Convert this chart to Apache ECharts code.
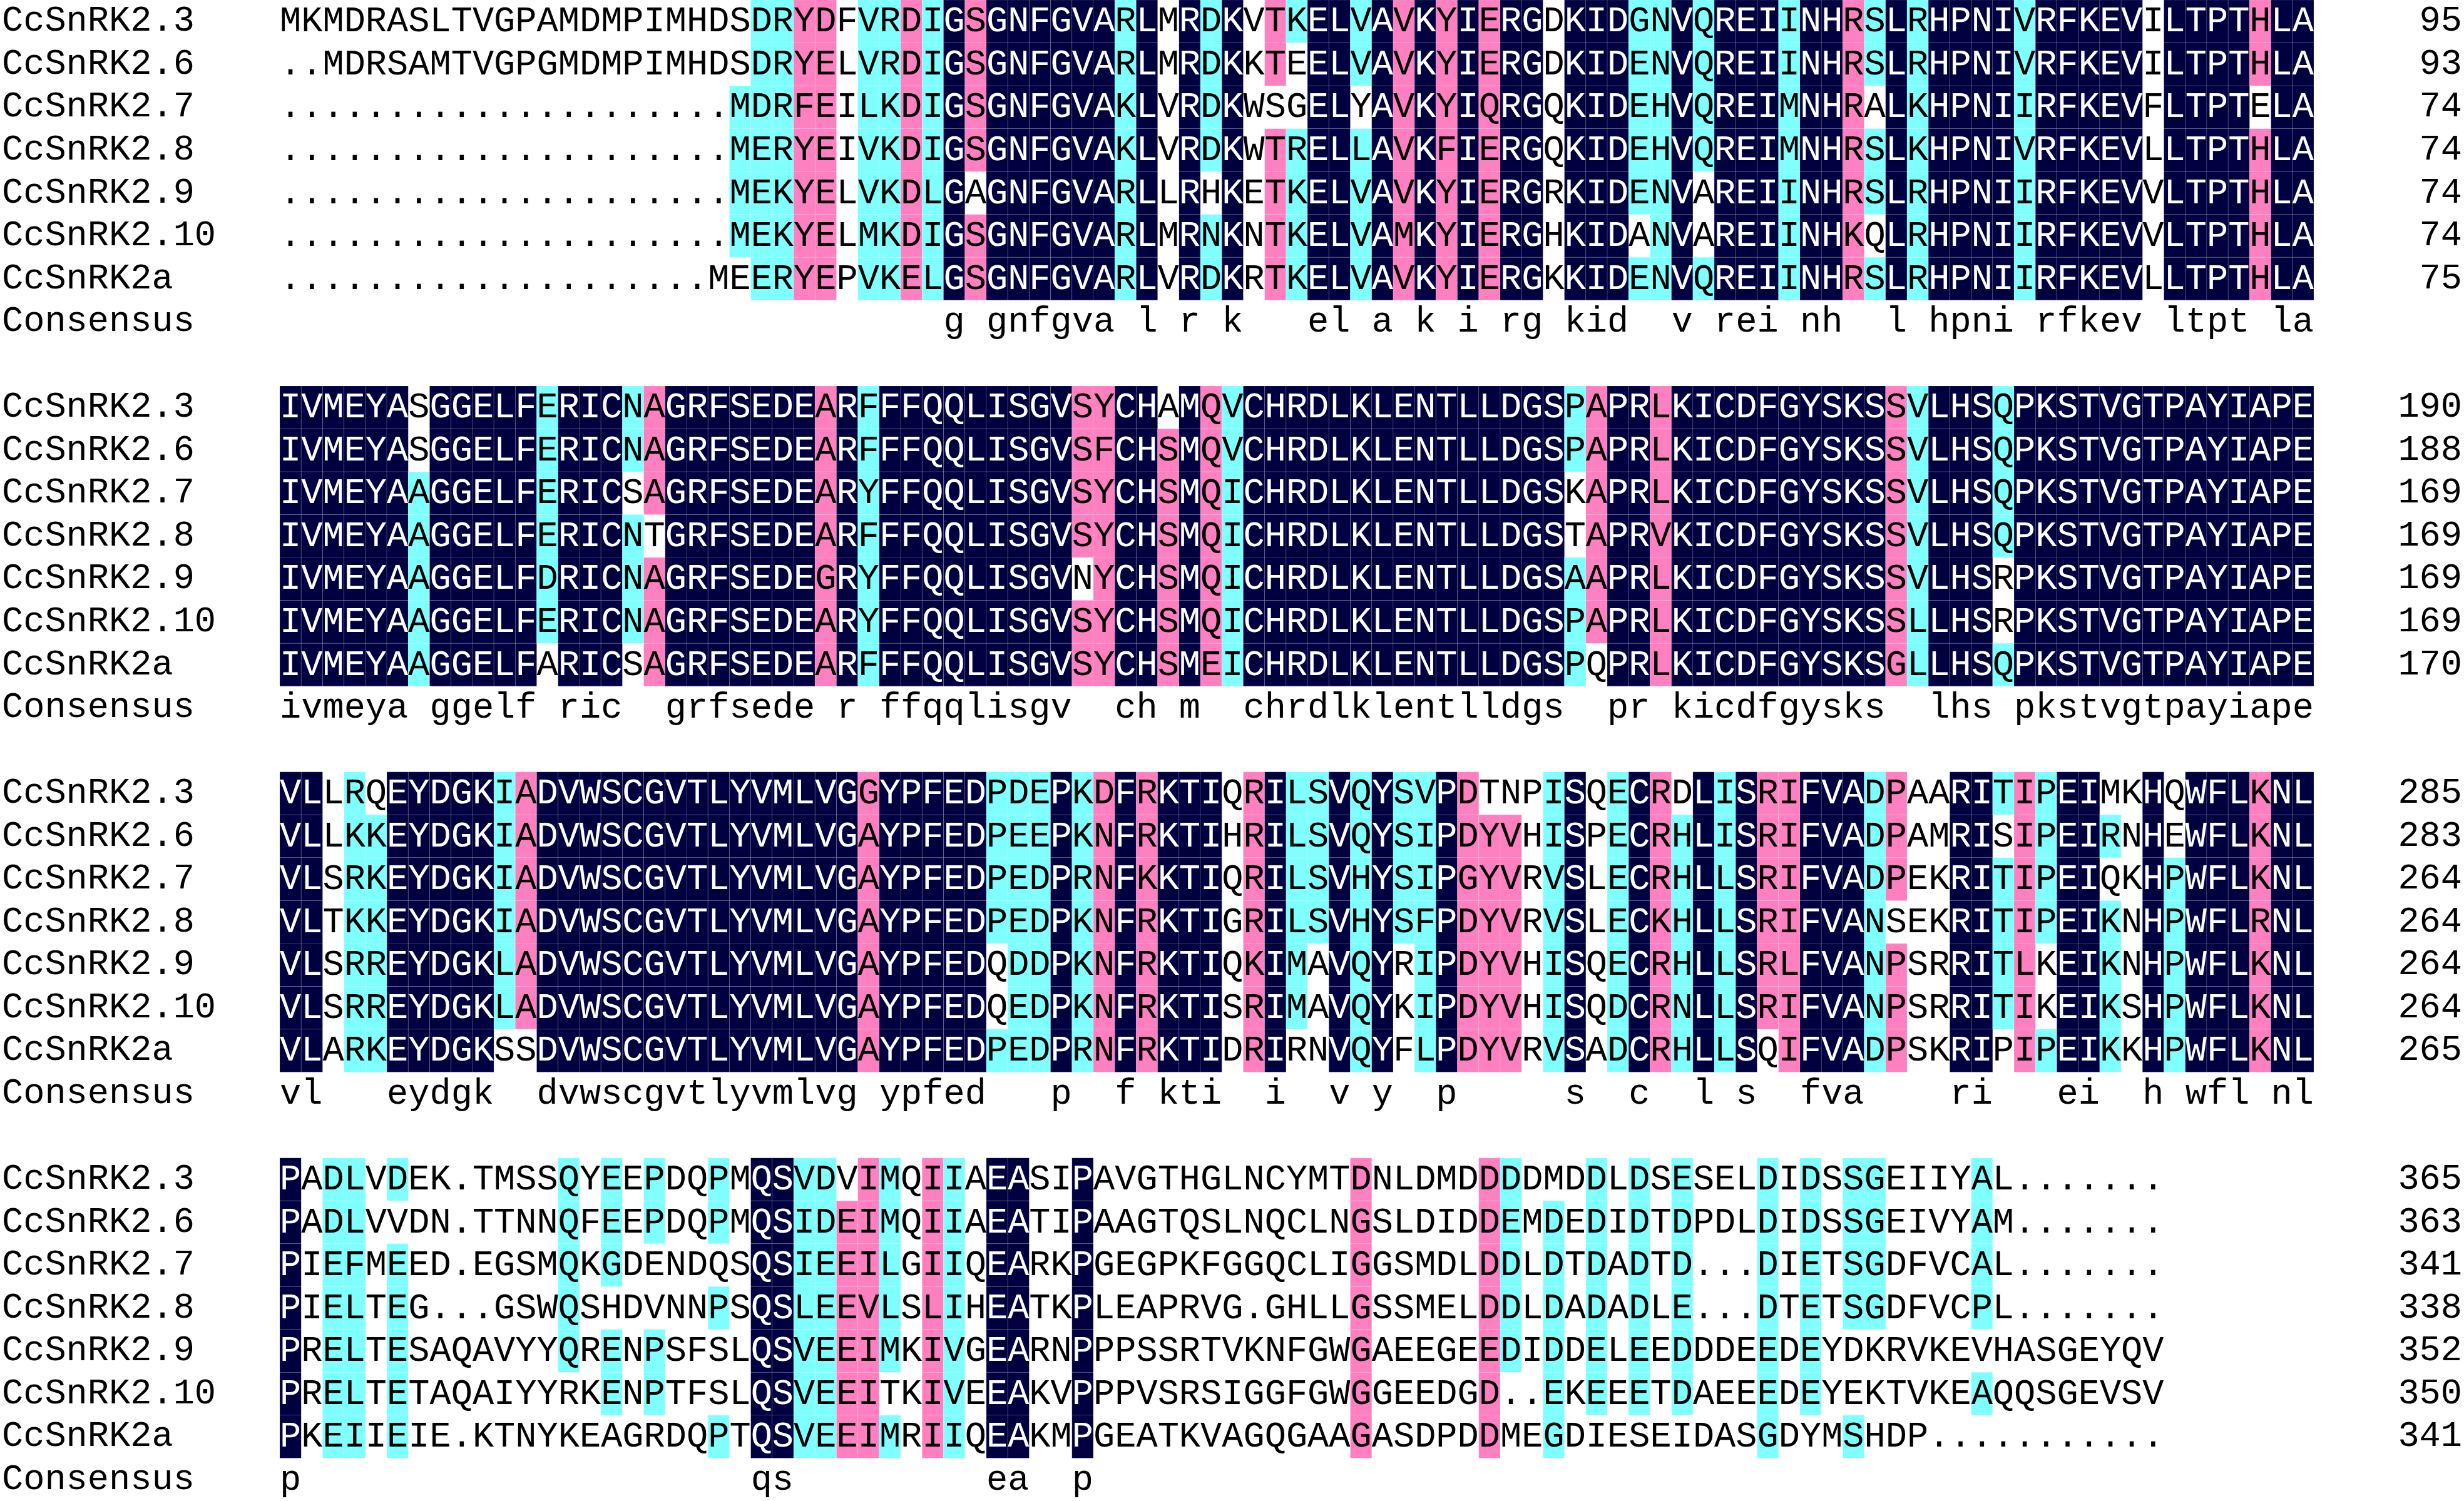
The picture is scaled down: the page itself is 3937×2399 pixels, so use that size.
<!DOCTYPE html>
<html>
<head>
<meta charset="utf-8">
<title>CcSnRK2 alignment</title>
<script src="https://cdn.jsdelivr.net/npm/echarts@6/dist/echarts.min.js"></script>
<style>
  html, body { margin: 0; padding: 0; background: #fff; }
  #main { width: 3937px; height: 2399px; }
</style>
</head>
<body>
<div id="main"></div>
<script>
// names, same order in every block
const seqNames = ['CcSnRK2.3', 'CcSnRK2.6', 'CcSnRK2.7', 'CcSnRK2.8', 'CcSnRK2.9', 'CcSnRK2.10', 'CcSnRK2a'];

// aligned sequences, one array per block ('.' = gap)
const block1 = [
  'MKMDRASLTVGPAMDMPIMHDSDRYDFVRDIGSGNFGVARLMRDKVTKELVAVKYIERGDKIDGNVQREIINHRSLRHPNIVRFKEVILTPTHLA',
  '..MDRSAMTVGPGMDMPIMHDSDRYELVRDIGSGNFGVARLMRDKKTEELVAVKYIERGDKIDENVQREIINHRSLRHPNIVRFKEVILTPTHLA',
  '.'.repeat(21) + 'MDRFEILKDIGSGNFGVAKLVRDKWSGELYAVKYIQRGQKIDEHVQREIMNHRALKHPNIIRFKEVFLTPTELA',
  '.'.repeat(21) + 'MERYEIVKDIGSGNFGVAKLVRDKWTRELLAVKFIERGQKIDEHVQREIMNHRSLKHPNIVRFKEVLLTPTHLA',
  '.'.repeat(21) + 'MEKYELVKDLGAGNFGVARLLRHKETKELVAVKYIERGRKIDENVAREIINHRSLRHPNIIRFKEVVLTPTHLA',
  '.'.repeat(21) + 'MEKYELMKDIGSGNFGVARLMRNKNTKELVAMKYIERGHKIDANVAREIINHKQLRHPNIIRFKEVVLTPTHLA',
  '.'.repeat(20) + 'MEERYEPVKELGSGNFGVARLVRDKRTKELVAVKYIERGKKIDENVQREIINHRSLRHPNIIRFKEVLLTPTHLA'
];
const block2 = [
  'IVMEYASGGELFERICNAGRFSEDEARFFFQQLISGVSYCHAMQVCHRDLKLENTLLDGSPAPRLKICDFGYSKSSVLHSQPKSTVGTPAYIAPE',
  'IVMEYASGGELFERICNAGRFSEDEARFFFQQLISGVSFCHSMQVCHRDLKLENTLLDGSPAPRLKICDFGYSKSSVLHSQPKSTVGTPAYIAPE',
  'IVMEYAAGGELFERICSAGRFSEDEARYFFQQLISGVSYCHSMQICHRDLKLENTLLDGSKAPRLKICDFGYSKSSVLHSQPKSTVGTPAYIAPE',
  'IVMEYAAGGELFERICNTGRFSEDEARFFFQQLISGVSYCHSMQICHRDLKLENTLLDGSTAPRVKICDFGYSKSSVLHSQPKSTVGTPAYIAPE',
  'IVMEYAAGGELFDRICNAGRFSEDEGRYFFQQLISGVNYCHSMQICHRDLKLENTLLDGSAAPRLKICDFGYSKSSVLHSRPKSTVGTPAYIAPE',
  'IVMEYAAGGELFERICNAGRFSEDEARYFFQQLISGVSYCHSMQICHRDLKLENTLLDGSPAPRLKICDFGYSKSSLLHSRPKSTVGTPAYIAPE',
  'IVMEYAAGGELFARICSAGRFSEDEARFFFQQLISGVSYCHSMEICHRDLKLENTLLDGSPQPRLKICDFGYSKSGLLHSQPKSTVGTPAYIAPE'
];
const block3 = [
  'VLLRQEYDGKIADVWSCGVTLYVMLVGGYPFEDPDEPKDFRKTIQRILSVQYSVPDTNPISQECRDLISRIFVADPAARITIPEIMKHQWFLKNL',
  'VLLKKEYDGKIADVWSCGVTLYVMLVGAYPFEDPEEPKNFRKTIHRILSVQYSIPDYVHISPECRHLISRIFVADPAMRISIPEIRNHEWFLKNL',
  'VLSRKEYDGKIADVWSCGVTLYVMLVGAYPFEDPEDPRNFKKTIQRILSVHYSIPGYVRVSLECRHLLSRIFVADPEKRITIPEIQKHPWFLKNL',
  'VLTKKEYDGKIADVWSCGVTLYVMLVGAYPFEDPEDPKNFRKTIGRILSVHYSFPDYVRVSLECKHLLSRIFVANSEKRITIPEIKNHPWFLRNL',
  'VLSRREYDGKLADVWSCGVTLYVMLVGAYPFEDQDDPKNFRKTIQKIMAVQYRIPDYVHISQECRHLLSRLFVANPSRRITLKEIKNHPWFLKNL',
  'VLSRREYDGKLADVWSCGVTLYVMLVGAYPFEDQEDPKNFRKTISRIMAVQYKIPDYVHISQDCRNLLSRIFVANPSRRITIKEIKSHPWFLKNL',
  'VLARKEYDGKSSDVWSCGVTLYVMLVGAYPFEDPEDPRNFRKTIDRIRNVQYFLPDYVRVSADCRHLLSQIFVADPSKRIPIPEIKKHPWFLKNL'
];
const block4 = [
  'PADLVDEK.TMSSQYEEPDQPMQSVDVIMQIIAEASIPAVGTHGLNCYMTDNLDMDDDDMDDLDSESELDIDSSGEIIYAL.......',
  'PADLVVDN.TTNNQFEEPDQPMQSIDEIMQIIAEATIPAAGTQSLNQCLNGSLDIDDEMDEDIDTDPDLDIDSSGEIVYAM.......',
  'PIEFMEED.EGSMQKGDENDQSQSIEEILGIIQEARKPGEGPKFGGQCLIGGSMDLDDLDTDADTD...DIETSGDFVCAL.......',
  'PIELTEG...GSWQSHDVNNPSQSLEEVLSLIHEATKPLEAPRVG.GHLLGSSMELDDLDADADLE...DTETSGDFVCPL.......',
  'PRELTESAQAVYYQRENPSFSLQSVEEIMKIVGEARNPPPSSRTVKNFGWGAEEGEEDIDDELEEDDDEEDEYDKRVKEVHASGEYQV',
  'PRELTETAQAIYYRKENPTFSLQSVEEITKIVEEAKVPPPVSRSIGGFGWGGEEDGD..EKEEETDAEEEDEYEKTVKEAQQSGEVSV',
  'PKEIIEIE.KTNYKEAGRDQPTQSVEEIMRIIQEAKMPGEATKVAGQGAAGASDPDDMEGDIESEIDASGDYMSHDP...........'
];

// residue numbers printed at the right of each row
const ends1 = [95, 93, 74, 74, 74, 74, 75];
const ends2 = [190, 188, 169, 169, 169, 169, 170];
const ends3 = [285, 283, 264, 264, 264, 264, 265];
const ends4 = [365, 363, 341, 338, 352, 350, 341];

// consensus lines as printed
const cons1 = ' '.repeat(31) + 'g gnfgva l r k   el a k i rg kid  v rei nh  l hpni rfkev ltpt la';
const cons2 = 'ivmeya ggelf ric  grfsede r ffqqlisgv  ch m  chrdlklentlldgs  pr kicdfgysks  lhs pkstvgtpayiape';
const cons3 = 'vl   eydgk  dvwscgvtlyvmlvg ypfed   p  f kti  i  v y  p     s  c  l s  fva    ri   ei  h wfl nl';
const cons4 = 'p' + ' '.repeat(21) + 'qs' + ' '.repeat(9) + 'ea  p';

// residue pairs shaded together (DNAMAN homology)
const similarPairs = ['DE', 'DN', 'EQ', 'KR', 'FY', 'IL', 'IM', 'IV', 'LM', 'LV', 'MV', 'FL', 'FI',
  'GA', 'GD', 'GE', 'GS', 'AP', 'HN', 'HQ'];

const FILL = [null, '#80ffff', '#ff80c0', '#000040'];   // >=50%, >=75%, 100%
const FONT = "'Courier New', 'Liberation Mono', monospace";
const CELL_W = 34.3, ROW_H = 68.69, NCOL = 95;

const blocks = [block1, block2, block3, block4];
const ends = [ends1, ends2, ends3, ends4];
const consensus = [cons1, cons2, cons3, cons4];

const similar = new Set();
similarPairs.forEach(p => { similar.add(p); similar.add(p[1] + p[0]); });

const rowKeys = [], rowNames = [], rowEnds = [];
const cells = [];

blocks.forEach((seqs, b) => {
  const base = b * 9;
  for (let r = 0; r < 9; r++) {
    if (b === blocks.length - 1 && r === 8) break;
    rowKeys.push('r' + (base + r));
    rowNames.push(r < 7 ? seqNames[r] : (r === 7 ? 'Consensus' : ''));
    rowEnds.push(r < 7 ? String(ends[b][r]) : '');
  }
  const width = seqs[0].length;
  for (let c = 0; c < width; c++) {
    const col = seqs.map(s => s[c]);
    const counts = {};
    col.forEach(ch => { if (ch !== '.') counts[ch] = (counts[ch] || 0) + 1; });
    let top = null, n = 0;
    Object.keys(counts).forEach(k => { if (counts[k] > n) { n = counts[k]; top = k; } });
    const frac = n / seqs.length;
    const level = frac >= 1 ? 3 : frac >= 0.75 ? 2 : frac >= 0.5 ? 1 : 0;
    col.forEach((ch, r) => {
      const hit = level > 0 && ch !== '.' && (ch === top || similar.has(ch + top));
      cells.push({ value: [c, base + r], ch: ch, level: hit ? level : 0 });
    });
    const cc = consensus[b][c];
    if (cc && cc !== ' ') cells.push({ value: [c, base + 7], ch: cc, level: 0 });
  }
});

const chart = echarts.init(document.getElementById('main'));

const option = {
  animation: false,
  backgroundColor: '#fff',
  grid: {
    left: 444,
    top: 0,
    width: NCOL * CELL_W,
    height: rowKeys.length * ROW_H
  },
  xAxis: {
    type: 'value',
    min: 0,
    max: NCOL,
    show: false
  },
  yAxis: [{
    type: 'category',
    data: rowKeys,
    inverse: true,
    axisLine: { show: false },
    axisTick: { show: false },
    splitLine: { show: false },
    axisLabel: {
      interval: 0,
      align: 'left',
      margin: 444,
      fontFamily: FONT,
      fontSize: 57,
      color: '#000',
      formatter: (v, i) => rowNames[i]
    }
  }, {
    type: 'category',
    data: rowKeys,
    inverse: true,
    position: 'right',
    axisLine: { show: false },
    axisTick: { show: false },
    splitLine: { show: false },
    axisLabel: {
      interval: 0,
      align: 'right',
      margin: 237,
      fontFamily: FONT,
      fontSize: 57,
      color: '#000',
      formatter: (v, i) => rowEnds[i]
    }
  }],
  series: [{
    type: 'custom',
    silent: true,
    progressive: 0,
    xAxisIndex: 0,
    yAxisIndex: 0,
    data: cells.map(d => d.value),
    renderItem: function (params, api) {
      const cell = cells[params.dataIndex];
      const p = api.coord([api.value(0), api.value(1)]);
      const s = api.size([1, 1]);
      const kids = [];
      if (cell.level) {
        kids.push({
          type: 'rect',
          shape: { x: p[0], y: p[1] - s[1] / 2, width: s[0], height: s[1] },
          style: { fill: FILL[cell.level], stroke: 'rgba(255,255,255,0.14)', lineWidth: 1 }
        });
      }
      kids.push({
        type: 'text',
        x: p[0] + s[0] / 2,
        y: p[1] + 1,
        style: {
          text: cell.ch,
          fill: cell.level === 3 ? '#fff' : '#000',
          fontFamily: FONT,
          fontSize: 57,
          align: 'center',
          verticalAlign: 'middle'
        }
      });
      return { type: 'group', children: kids };
    }
  }]
};

chart.setOption(option);
</script>
</body>
</html>
